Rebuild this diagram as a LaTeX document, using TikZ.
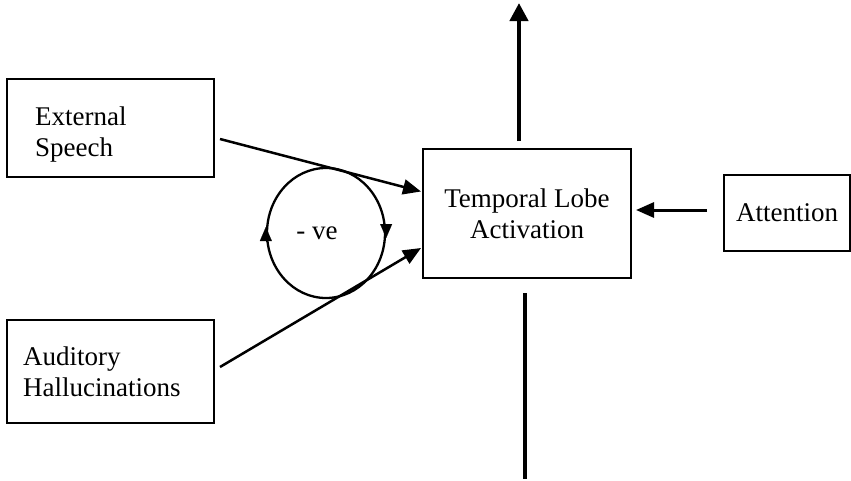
\documentclass[tikz,border=0pt]{standalone}
\usepackage{fontspec}
\setmainfont{Liberation Serif}
\usetikzlibrary{arrows.meta,shapes.geometric}
\begin{document}
\begin{tikzpicture}[x=1pt,y=-1pt,
  box/.style={draw,line width=2pt,inner sep=0pt,rectangle},
  txt/.style={font=\fontsize{27}{31}\selectfont,inner sep=0pt},
  thin arrow/.style={line width=2.5pt,-{Triangle[length=18pt,width=15pt]}},
  thick arrow/.style={line width=4.2pt,-{Triangle[length=18pt,width=18pt]}},
  looptip/.style={line width=0.1pt,-{Triangle[length=14pt,width=12pt]}}]
\useasboundingbox (0,0) rectangle (851,480);
% boxes
\node[box,minimum width=207pt,minimum height=98pt] (ext) at (110.5,128) {};
\node[box,minimum width=207pt,minimum height=103pt] (aud) at (110.5,371.5) {};
\node[box,minimum width=208pt,minimum height=129pt,txt,align=center] (tl) at (527,213.5) {Temporal Lobe\\Activation};
\node[box,minimum width=126pt,minimum height=76pt,txt] (att) at (787,213) {Attention};
% texts of the left boxes
\node[txt,anchor=base west] (exttxt) at (35,125) {External};
\node[txt,anchor=base west] (exttxt2) at (35,156) {Speech};
\node[txt,anchor=base west] (audtxt) at (23,365) {Auditory};
\node[txt,anchor=base west] (audtxt2) at (23,396) {Hallucinations};
% loop
\node[draw,ellipse,line width=2.3pt,minimum width=118pt,minimum height=130pt,inner sep=0pt] (loop) at (326,233) {};
\node[txt] (ve) at (317,233) {- ve};
\draw[looptip] ([yshift=-8pt]loop.west) -- ([yshift=6pt]loop.west);
\draw[looptip] ([yshift=9pt]loop.east) -- ([yshift=-5pt]loop.east);
% connectors
\draw[thin arrow] ([xshift=5pt,yshift=-11pt]ext.east) -- ([xshift=-1pt,yshift=22pt]tl.west);
\draw[thin arrow] ([xshift=5pt,yshift=4.5pt]aud.east) -- ([xshift=-1pt,yshift=-34.5pt]tl.west);
\coordinate (top) at (519,3);
\coordinate (bot) at (525,479);
\draw[thick arrow] ([xshift=-8pt,yshift=7pt]tl.north) -- (top);
\draw[line width=4.2pt] ([xshift=-2pt,yshift=-14pt]tl.south) -- (bot);
\draw[thin arrow,line width=3pt] ([xshift=-16pt,yshift=3pt]att.west) -- ([xshift=4pt,yshift=3.5pt]tl.east);
\end{tikzpicture}
\end{document}
